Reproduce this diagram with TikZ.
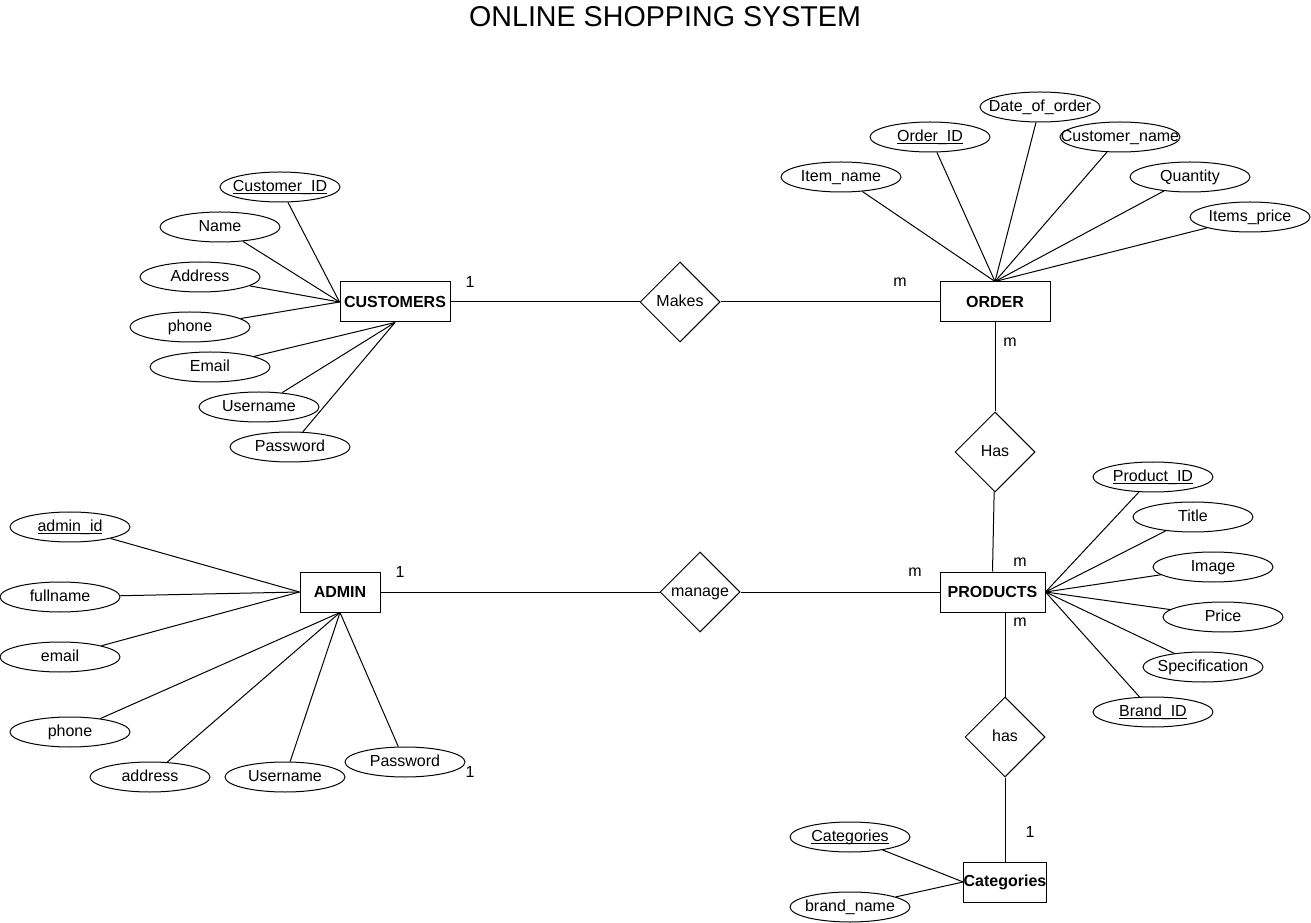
\documentclass[tikz,border=0pt]{standalone}
\usepackage{fontspec}
\setmainfont{Liberation Sans}
\usetikzlibrary{shapes.geometric}
\tikzset{
  entity/.style={draw,rectangle,minimum height=30pt,inner sep=0pt,font=\fontsize{12}{14}\selectfont\bfseries},
  attr/.style={draw,ellipse,minimum width=90pt,minimum height=22.5pt,inner sep=0pt},
  rel/.style={draw,diamond,minimum width=60pt,minimum height=60pt,inner sep=0pt,text height=8.6pt,text depth=2.5pt},
  card/.style={inner sep=0pt},
  every label/.style={text height=8.6pt,text depth=2.5pt}
}
\newcommand{\keyattr}[1]{\underline{\smash{#1}}}
\begin{document}
\begin{tikzpicture}[x=0.75pt,y=-0.75pt,font=\fontsize{12}{14}\selectfont,line width=0.75pt]
  \useasboundingbox (0,0) rectangle (1311,923);
  \node (title) at (665,17) {\fontsize{21.5}{24}\selectfont ONLINE SHOPPING SYSTEM};

  \node[entity,minimum width=82.5pt] (cust) at (395,302) {CUSTOMERS};
  \node[entity,minimum width=82.5pt] (order) at (995,302) {ORDER};
  \node[entity,minimum width=60pt] (admin) at (340,592) {ADMIN};
  \node[entity,minimum width=78.75pt] (prod) at (992.5,592) {PRODUCTS};
  \node[entity,minimum width=60pt] (cat) at (1005,882) {Categories};

  \node[rel] (makes) at (680,302) {Makes};
  \node[rel] (has) at (995,452) {Has};
  \node[rel] (manage) at (700,592) {manage};
  \node[rel] (has2) at (1005,737) {has};

  \node[attr,label=center:\keyattr{Customer\_ID}] (cid) at (280,187) {};
  \node[attr,label=center:Name] (cname) at (220,227) {};
  \node[attr,label=center:Address] (caddr) at (200,277) {};
  \node[attr,label=center:phone] (cphone) at (190,327) {};
  \node[attr,label=center:Email] (cmail) at (210,367) {};
  \node[attr,label=center:Username] (cuser) at (259,407) {};
  \node[attr,label=center:Password] (cpass) at (290,447) {};

  \node[attr,label=center:Item\_name] (oitem) at (841,177) {};
  \node[attr,label=center:\keyattr{Order\_ID}] (oid) at (930,137) {};
  \node[attr,label=center:Date\_of\_order] (odate) at (1040,107) {};
  \node[attr,label=center:Customer\_name] (ocust) at (1120,137) {};
  \node[attr,label=center:Quantity] (oqty) at (1190,177) {};
  \node[attr,label=center:Items\_price] (oprice) at (1250,217) {};

  \node[attr,label=center:\keyattr{admin\_id}] (aid) at (70,527) {};
  \node[attr,label=center:fullname] (aname) at (60,597) {};
  \node[attr,label=center:email] (amail) at (60,657) {};
  \node[attr,label=center:phone] (aphone) at (70,732) {};
  \node[attr,label=center:address] (aaddr) at (150,777) {};
  \node[attr,label=center:Username] (auser) at (285,777) {};
  \node[attr,label=center:Password] (apass) at (405,762) {};

  \node[attr,label=center:\keyattr{Product\_ID}] (pid) at (1153,477) {};
  \node[attr,label=center:Title] (ptitle) at (1193,517) {};
  \node[attr,label=center:Image] (pimg) at (1213,567) {};
  \node[attr,label=center:Price] (pprice) at (1223,617) {};
  \node[attr,label=center:Specification] (pspec) at (1203,667) {};
  \node[attr,label=center:\keyattr{Brand\_ID}] (pbrand) at (1153,712) {};

  \node[attr,label=center:\keyattr{Categories}] (kid) at (850,837) {};
  \node[attr,label=center:brand\_name] (kbrand) at (850,907) {};

  \node[card] (c1) at (470,282) {1};
  \node[card] (c2) at (900,282) {m};
  \node[card] (c3) at (1010,342) {m};
  \node[card] (c4) at (400,572) {1};
  \node[card] (c5) at (915,572) {m};
  \node[card] (c6) at (1020,562) {m};
  \node[card] (c7) at (1020,622) {m};
  \node[card] (c8) at (470,772) {1};
  \node[card] (c9) at (1030,832) {1};

  \draw (cust) -- (makes) -- (order);
  \draw (order) -- (has);
  \draw (has) -- (prod.north);
  \draw (admin) -- (manage) -- (prod);
  \draw (has2.north) -- (has2.north |- prod.south);
  \draw (has2) -- (cat);

  \draw (cid) -- (cust.west);
  \draw (cname) -- (cust.west);
  \draw (caddr) -- (cust.west);
  \draw (cphone) -- (cust.west);
  \draw (cmail) -- (cust.south);
  \draw (cuser) -- (cust.south);
  \draw (cpass) -- (cust.south);

  \draw (oitem) -- (order.north);
  \draw (oid) -- (order.north);
  \draw (odate) -- (order.north);
  \draw (ocust) -- (order.north);
  \draw (oqty) -- (order.north);
  \draw (oprice) -- (order.north);

  \draw (aid) -- (admin.west);
  \draw (aname) -- (admin.west);
  \draw (amail) -- (admin.west);
  \draw (aphone) -- (admin.south);
  \draw (aaddr) -- (admin.south);
  \draw (auser) -- (admin.south);
  \draw (apass) -- (admin.south);

  \draw (pid) -- (prod.east);
  \draw (ptitle) -- (prod.east);
  \draw (pimg) -- (prod.east);
  \draw (pprice) -- (prod.east);
  \draw (pspec) -- (prod.east);
  \draw (pbrand) -- (prod.east);

  \draw (kid) -- (cat.west);
  \draw (kbrand) -- (cat.west);
\end{tikzpicture}
\end{document}
